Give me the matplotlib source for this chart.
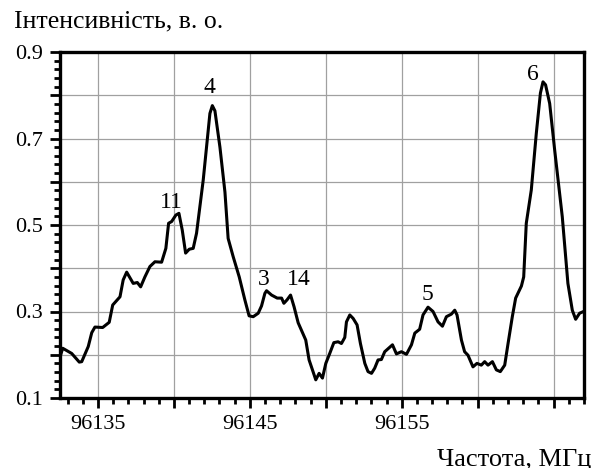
import matplotlib
matplotlib.use('Agg')
import matplotlib.pyplot as plt
from matplotlib.ticker import MultipleLocator

plt.rcParams['font.family'] = ['Liberation Serif', 'DejaVu Serif']

# spectrum
freq = [96132.50, 96132.68, 96133.27, 96133.77, 96133.93, 96134.36, 96134.59, 96134.80,
        96135.31, 96135.74, 96135.97, 96136.45, 96136.66, 96136.89, 96137.32, 96137.59,
        96137.81, 96138.09, 96138.42, 96138.75, 96139.19, 96139.47, 96139.65, 96139.85,
        96140.13, 96140.33, 96140.55, 96140.77, 96141.01, 96141.27, 96141.49, 96141.93,
        96142.37, 96142.53, 96142.70, 96143.03, 96143.36, 96143.57, 96143.90, 96144.30,
        96144.67, 96144.95, 96145.22, 96145.55, 96145.77, 96145.99, 96146.10, 96146.43,
        96146.80, 96147.09, 96147.24, 96147.45, 96147.68, 96147.91, 96148.18, 96148.68,
        96148.90, 96149.16, 96149.34, 96149.56, 96149.78, 96150.00, 96150.26, 96150.53,
        96150.81, 96151.03, 96151.25, 96151.36, 96151.58, 96151.80, 96152.06, 96152.28,
        96152.57, 96152.78, 96153.01, 96153.22, 96153.44, 96153.66, 96153.88, 96154.39,
        96154.65, 96154.98, 96155.31, 96155.64, 96155.86, 96156.18, 96156.40, 96156.73,
        96157.06, 96157.39, 96157.68, 96157.94, 96158.27, 96158.49, 96158.64, 96158.93,
        96159.14, 96159.36, 96159.69, 96159.95, 96160.24, 96160.46, 96160.68, 96160.97,
        96161.23, 96161.49, 96161.78, 96162.00, 96162.28, 96162.50, 96162.88, 96163.03,
        96163.20, 96163.53, 96163.86, 96164.13, 96164.30, 96164.47, 96164.74, 96165.07,
        96165.57, 96165.94, 96166.23, 96166.45, 96166.71, 96166.97]
intensity = [0.195, 0.215, 0.203, 0.183, 0.184, 0.219, 0.251, 0.264,
             0.263, 0.275, 0.315, 0.334, 0.373, 0.391, 0.365, 0.367,
             0.357, 0.380, 0.404, 0.415, 0.414, 0.446, 0.504, 0.508,
             0.523, 0.527, 0.488, 0.435, 0.444, 0.446, 0.481, 0.604,
             0.758, 0.776, 0.764, 0.680, 0.576, 0.469, 0.427, 0.380,
             0.327, 0.290, 0.288, 0.296, 0.313, 0.342, 0.348, 0.338,
             0.331, 0.331, 0.319, 0.327, 0.338, 0.311, 0.274, 0.234,
             0.188, 0.161, 0.142, 0.157, 0.146, 0.180, 0.203, 0.228,
             0.230, 0.226, 0.240, 0.276, 0.292, 0.284, 0.269, 0.226,
             0.180, 0.161, 0.157, 0.169, 0.188, 0.189, 0.207, 0.223,
             0.202, 0.207, 0.201, 0.223, 0.250, 0.259, 0.292, 0.310,
             0.300, 0.276, 0.266, 0.288, 0.294, 0.303, 0.292, 0.234,
             0.207, 0.199, 0.172, 0.180, 0.176, 0.184, 0.176, 0.184,
             0.165, 0.161, 0.176, 0.226, 0.288, 0.331, 0.359, 0.380,
             0.504, 0.581, 0.712, 0.805, 0.831, 0.824, 0.781, 0.673,
             0.519, 0.365, 0.303, 0.282, 0.296, 0.300]

# peak labels (baseline positions)
peak_names = ['11', '4', '3', '14', '5', '6']
peak_x = [96139.84, 96142.32, 96145.92, 96148.24, 96156.66, 96163.64]
peak_y = [0.539, 0.806, 0.361, 0.361, 0.327, 0.835]

xt = [96135, 96140, 96145, 96150, 96155, 96160, 96165]
xt_labels = ['96135', '', '96145', '', '96155', '', '']
yt = [0.1, 0.2, 0.3, 0.4, 0.5, 0.6, 0.7, 0.8, 0.9]
yt_labels = ['0.1', '', '0.3', '', '0.5', '', '0.7', '', '0.9']

fig = plt.figure(figsize=(6.03, 4.68), dpi=100)
ax = fig.add_axes([60 / 603, 70 / 468, 524 / 603, 346 / 468])

ax.plot(freq, intensity, color='black', lw=2.2, solid_joinstyle='round')

for name, px, py in zip(peak_names, peak_x, peak_y):
    ax.text(px, py, name, ha='center', va='baseline', fontsize=17)

ax.set_xlim(96132.5, 96167.0)
ax.set_ylim(0.1, 0.9)
ax.set_xticks(xt)
ax.set_xticklabels(xt_labels)
ax.set_yticks(yt)
ax.set_yticklabels(yt_labels)
ax.xaxis.set_minor_locator(MultipleLocator(1))
ax.yaxis.set_minor_locator(MultipleLocator(0.02))

ax.grid(True, which='major', color='#a0a0a0', lw=0.9)
ax.tick_params(which='major', direction='out', length=7, width=2, labelsize=16, pad=5)
ax.tick_params(which='minor', direction='out', length=4, width=2)
for s in ax.spines.values():
    s.set_linewidth(2.4)

fig.text(14 / 603, 1 - 27 / 468, 'Інтенсивність, в. о.', fontsize=18.5, va='baseline')
fig.text(437 / 603, 1 - 466 / 468, 'Частота, МГц', fontsize=19, va='baseline')

fig.savefig('out.png', dpi=100)
